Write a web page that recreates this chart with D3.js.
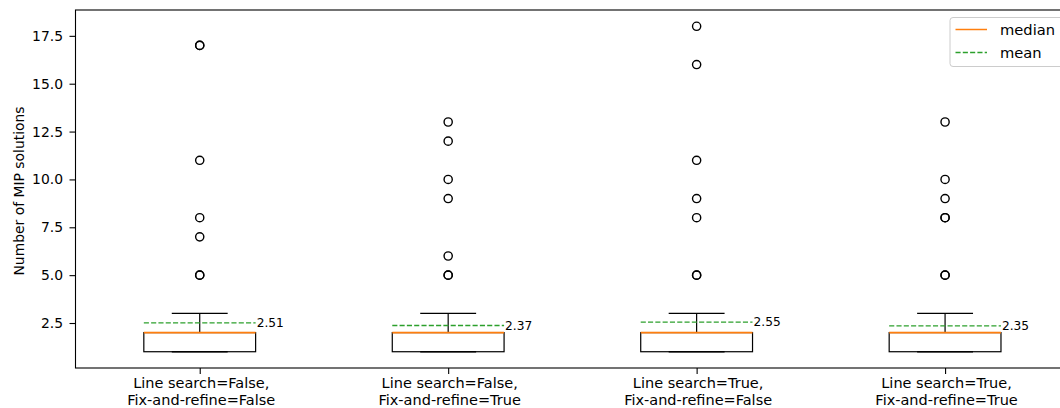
<!DOCTYPE html>
<html><head><meta charset="utf-8">
<script src="https://cdn.jsdelivr.net/npm/d3@7"></script>
<style>
body{margin:0;background:#fff;}
svg{display:block;font-family:"DejaVu Sans",sans-serif;}
</style></head><body>
<svg id="chart" width="1060" height="408"></svg>
<script>
const categories = [
  ["Line search=False,", "Fix-and-refine=False"],
  ["Line search=False,", "Fix-and-refine=True"],
  ["Line search=True,", "Fix-and-refine=False"],
  ["Line search=True,", "Fix-and-refine=True"]
];
const whiskerLow = [1, 1, 1, 1];
const q1 = [1, 1, 1, 1];
const medians = [2, 2, 2, 2];
const q3 = [2, 2, 2, 2];
const whiskerHigh = [3, 3, 3, 3];
const means = [2.51, 2.37, 2.55, 2.35];
const outliers = [
  [17, 17, 11, 8, 7, 5, 5],
  [13, 12, 10, 9, 6, 5, 5],
  [18, 16, 11, 9, 8, 5, 5],
  [13, 10, 9, 8, 8, 5, 5]
];
const yTicks = [2.5, 5.0, 7.5, 10.0, 12.5, 15.0, 17.5];
const yDomain = [0.15, 18.85];
const xDomain = [0.5, 4.5];
const boxWidth = 0.45;

const svg = d3.select("#chart");
const L = 75.5, R = 1069.3, T = 10, B = 368;
const x = d3.scaleLinear().domain(xDomain).range([L, R]);
const y = d3.scaleLinear().domain(yDomain).range([B, T]);

const g = svg.append("g");

categories.forEach((c, i) => {
  const p = i + 1;
  const xl = x(p - boxWidth / 2), xr = x(p + boxWidth / 2);
  const cl = x(p - boxWidth / 4), cr = x(p + boxWidth / 4);
  const xc = x(p);
  const bg = g.append("g");
  bg.append("line").attr("x1", xc).attr("x2", xc).attr("y1", y(q3[i])).attr("y2", y(whiskerHigh[i])).attr("stroke", "#000").attr("stroke-width", 1.2);
  bg.append("line").attr("x1", xc).attr("x2", xc).attr("y1", y(q1[i])).attr("y2", y(whiskerLow[i])).attr("stroke", "#000").attr("stroke-width", 1.2);
  bg.append("line").attr("x1", cl).attr("x2", cr).attr("y1", y(whiskerHigh[i])).attr("y2", y(whiskerHigh[i])).attr("stroke", "#000").attr("stroke-width", 1.3);
  bg.append("line").attr("x1", cl).attr("x2", cr).attr("y1", y(whiskerLow[i])).attr("y2", y(whiskerLow[i])).attr("stroke", "#000").attr("stroke-width", 1.3);
  bg.append("rect").attr("x", xl).attr("y", y(q3[i])).attr("width", xr - xl).attr("height", Math.max(0, y(q1[i]) - y(q3[i])))
    .attr("fill", "none").attr("stroke", "#000").attr("stroke-width", 1.2);
  bg.append("line").attr("x1", xl).attr("x2", xr).attr("y1", y(medians[i])).attr("y2", y(medians[i])).attr("stroke", "#ff7f0e").attr("stroke-width", 1.8);
  bg.append("line").attr("x1", xl).attr("x2", xr).attr("y1", y(means[i])).attr("y2", y(means[i])).attr("stroke", "#2ca02c").attr("stroke-width", 1.3).attr("stroke-dasharray", "5.1,2.2");
  bg.append("text").attr("x", xr + 1).attr("y", y(means[i])).attr("dy", "0.36em").attr("font-size", "12.2px").attr("fill", "#000").text(means[i].toFixed(2));
  bg.selectAll("circle").data(outliers[i]).enter().append("circle")
    .attr("cx", xc).attr("cy", d => y(d)).attr("r", 4.1)
    .attr("fill", "none").attr("stroke", "#000").attr("stroke-width", 1.4);
});

// frame
svg.append("rect").attr("x", L).attr("y", T).attr("width", R - L).attr("height", B - T)
  .attr("fill", "none").attr("stroke", "#000").attr("stroke-width", 1.1);

// y axis
const yAxis = d3.axisLeft(y).tickValues(yTicks).tickFormat(d3.format(".1f")).tickSize(6).tickPadding(6.5);
const ya = svg.append("g").attr("transform", `translate(${L},0)`).call(yAxis);
ya.select(".domain").remove();
ya.selectAll("text").attr("font-size", "13.9px").attr("font-family", "DejaVu Sans").attr("fill", "#000");
ya.selectAll("line").attr("stroke", "#000").attr("stroke-width", 1.1);

// x axis
const xAxis = d3.axisBottom(x).tickValues([1, 2, 3, 4]).tickFormat("").tickSize(6);
const xa = svg.append("g").attr("transform", `translate(0,${B})`).call(xAxis);
xa.select(".domain").remove();
xa.selectAll("line").attr("stroke", "#000").attr("stroke-width", 1.1);
categories.forEach((c, i) => {
  const t = svg.append("text").attr("x", x(i + 1)).attr("text-anchor", "middle").attr("font-size", "14.5px").attr("fill", "#000");
  t.append("tspan").attr("x", x(i + 1) + 1.5).attr("y", 387.6).text(c[0]);
  t.append("tspan").attr("x", x(i + 1) + 1.5).attr("y", 404.5).text(c[1]);
});

// y label
svg.append("text").attr("transform", `translate(24,${(T + B) / 2 + 2}) rotate(-90)`).attr("text-anchor", "middle")
  .attr("font-size", "13.9px").attr("fill", "#000").text("Number of MIP solutions");

// legend
const lg = svg.append("g");
lg.append("rect").attr("x", 950).attr("y", 17.5).attr("width", 115).attr("height", 49).attr("rx", 3)
  .attr("fill", "#fff").attr("fill-opacity", 0.8).attr("stroke", "#ccc").attr("stroke-width", 1);
const legendItems = [{label: "median", color: "#ff7f0e", dash: null}, {label: "mean", color: "#2ca02c", dash: "5.1,2.2"}];
legendItems.forEach((d, i) => {
  const yy = 29.5 + i * 23;
  const ln = lg.append("line").attr("x1", 955.5).attr("x2", 987).attr("y1", yy).attr("y2", yy).attr("stroke", d.color).attr("stroke-width", 1.5);
  if (d.dash) ln.attr("stroke-dasharray", d.dash);
  lg.append("text").attr("x", 1000).attr("y", yy).attr("dy", "0.36em").attr("font-size", "14.7px").attr("fill", "#000").text(d.label);
});
</script>
</body></html>
